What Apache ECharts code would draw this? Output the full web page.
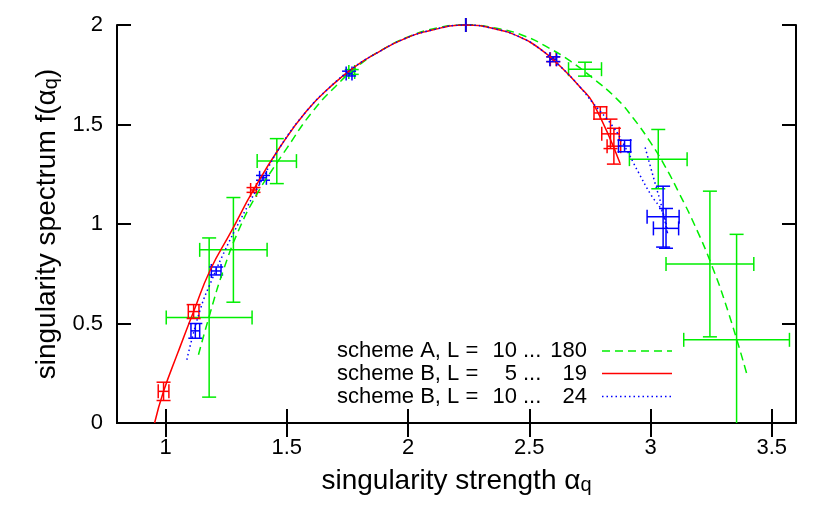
<!DOCTYPE html>
<html>
<head>
<meta charset="utf-8">
<script src="https://cdn.jsdelivr.net/npm/echarts@6/dist/echarts.min.js"></script>
<style>
  html, body { margin: 0; padding: 0; background: #fff; }
  #chart { width: 830px; height: 521px; }
</style>
</head>
<body>
<div id="chart"></div>
<script>
var xTicks = [1, 1.5, 2, 2.5, 3, 3.5];

// legend rows: scheme name, L range
var keyNames = ['scheme A', 'scheme B', 'scheme B'];
var keyFrom = ['10', '5', '10'];
var keyTo = ['180', '19', '24'];

// scheme A, L = 10 ... 180 (points with x / y errors)
var ptAX = [1.180, 1.280, 1.459, 1.768, 2.238, 2.730, 3.032, 3.245, 3.355];
var ptAY = [0.530, 0.870, 1.316, 1.764, 2.000, 1.778, 1.326, 0.799, 0.418];
var ptAXe = [0.177, 0.139, 0.081, 0.012, 0.000, 0.068, 0.119, 0.181, 0.218];
var ptAYe = [0.400, 0.263, 0.113, 0.012, 0.000, 0.035, 0.149, 0.366, 0.530];

// scheme B, L = 5 ... 19
var ptBX = [0.992, 1.116, 1.363, 2.238, 2.599, 2.793, 2.835, 2.849];
var ptBY = [0.159, 0.560, 1.171, 2.000, 1.828, 1.558, 1.453, 1.391];
var ptBXe = [0.022, 0.022, 0.012, 0.000, 0.012, 0.026, 0.036, 0.028];
var ptBYe = [0.046, 0.035, 0.012, 0.000, 0.012, 0.031, 0.074, 0.090];

// scheme B, L = 10 ... 24
var ptCX = [1.123, 1.209, 1.402, 1.757, 2.238, 2.599, 2.893, 3.052, 3.064];
var ptCY = [0.463, 0.764, 1.232, 1.756, 2.000, 1.828, 1.392, 1.037, 0.978];
var ptCXe = [0.018, 0.020, 0.014, 0.012, 0.000, 0.014, 0.025, 0.066, 0.052];
var ptCYe = [0.037, 0.020, 0.012, 0.012, 0.000, 0.012, 0.029, 0.153, 0.100];

// curves
var curveAX = [1.136, 1.184, 1.239, 1.308, 1.377, 1.439, 1.50, 1.60, 1.70, 1.80, 1.90, 2.0, 2.12, 2.238, 2.36, 2.48, 2.58, 2.67, 2.76, 2.86, 2.93, 3.0, 3.06, 3.12, 3.18, 3.25, 3.32, 3.40];
var curveAY = [0.343, 0.552, 0.769, 0.986, 1.150, 1.270, 1.380, 1.555, 1.690, 1.800, 1.880, 1.940, 1.985, 2.0, 1.985, 1.945, 1.885, 1.818, 1.735, 1.630, 1.530, 1.410, 1.290, 1.150, 1.000, 0.800, 0.560, 0.234];

var curveBX = [0.955, 0.992, 1.05, 1.116, 1.185, 1.27, 1.363, 1.473, 1.58, 1.68, 1.78, 1.88, 1.98, 2.10, 2.238, 2.36, 2.46, 2.55, 2.63, 2.709, 2.764, 2.874];
var curveBY = [0.0, 0.159, 0.35, 0.56, 0.77, 0.96, 1.171, 1.388, 1.565, 1.690, 1.790, 1.865, 1.928, 1.975, 2.0, 1.980, 1.940, 1.875, 1.790, 1.689, 1.606, 1.306];

var curveCX = [1.088, 1.143, 1.191, 1.246, 1.308, 1.402, 1.473, 1.58, 1.68, 1.78, 1.88, 1.98, 2.10, 2.238, 2.36, 2.46, 2.55, 2.63, 2.709, 2.764, 2.846, 2.893, 2.95, 3.0, 3.052, 3.07, 3.046, 3.02, 2.977];
var curveCY = [0.318, 0.569, 0.719, 0.869, 1.019, 1.232, 1.388, 1.565, 1.690, 1.790, 1.865, 1.928, 1.975, 2.0, 1.980, 1.940, 1.875, 1.790, 1.689, 1.606, 1.488, 1.392, 1.26, 1.15, 1.053, 0.95, 1.087, 1.20, 1.388];

var green = '#00ee00', red = '#ff0000', blue = '#0000ff';
var font = 'Liberation Sans, Arial, sans-serif';

function zip(a, b) {
  return a.map(function (v, i) { return [v, b[i]]; });
}
function zip4(a, b, c, d) {
  return a.map(function (v, i) { return [v, b[i], c[i], d[i]]; });
}

// gnuplot style xyerrorbars
function errBars(color) {
  return function (params, api) {
    var x = api.value(0), y = api.value(1), xe = api.value(2), ye = api.value(3);
    var lo = y - ye, capLo = true;
    if (lo < 0) { lo = 0; capLo = false; }
    var l = api.coord([x - xe, y]), r = api.coord([x + xe, y]);
    var t = api.coord([x, y + ye]), b = api.coord([x, lo]);
    var h = 7;
    var st = { stroke: color, lineWidth: 1.5, fill: null };
    var kids = [
      { type: 'line', shape: { x1: l[0], y1: l[1], x2: r[0], y2: r[1] }, style: st },
      { type: 'line', shape: { x1: t[0], y1: t[1], x2: b[0], y2: b[1] }, style: st },
      { type: 'line', shape: { x1: l[0], y1: l[1] - h, x2: l[0], y2: l[1] + h }, style: st },
      { type: 'line', shape: { x1: r[0], y1: r[1] - h, x2: r[0], y2: r[1] + h }, style: st },
      { type: 'line', shape: { x1: t[0] - h, y1: t[1], x2: t[0] + h, y2: t[1] }, style: st }
    ];
    if (capLo) {
      kids.push({ type: 'line', shape: { x1: b[0] - h, y1: b[1], x2: b[0] + h, y2: b[1] }, style: st });
    }
    return { type: 'group', children: kids };
  };
}

var chart = echarts.init(document.getElementById('chart'));

var axisLine = { lineStyle: { color: '#000', width: 2 } };
var tick = { inside: true, length: 14, lineStyle: { color: '#000', width: 2 } };

var keyRows = [340, 362.5, 385.5];
var keyStyles = [
  { stroke: green, lineWidth: 1.5, lineDash: [8, 5] },
  { stroke: red, lineWidth: 1.5 },
  { stroke: blue, lineWidth: 1.5, lineDash: [1.5, 3] }
];
var graphics = [];
keyRows.forEach(function (ty, i) {
  var ts = { fontSize: 22, fontFamily: font, fill: '#000', textVerticalAlign: 'middle' };
  graphics.push({ type: 'text', left: 337, top: ty, style: Object.assign({ text: keyNames[i] + ', L =' }, ts) });
  graphics.push({ type: 'text', x: 517, y: ty + 11, style: Object.assign({ text: keyFrom[i], textAlign: 'right' }, ts) });
  graphics.push({ type: 'text', x: 523, y: ty + 11, style: Object.assign({ text: '...', textAlign: 'left' }, ts) });
  graphics.push({ type: 'text', x: 587, y: ty + 11, style: Object.assign({ text: keyTo[i], textAlign: 'right' }, ts) });
  graphics.push({ type: 'line', shape: { x1: 602, y1: ty + 11, x2: 672, y2: ty + 11 }, style: keyStyles[i] });
});

var option = {
  animation: false,
  backgroundColor: '#fff',
  grid: { left: 117, right: 34, top: 25, bottom: 98 },
  xAxis: [{
    type: 'value', min: 0.8, max: 3.6, position: 'bottom',
    axisLine: axisLine,
    axisTick: Object.assign({ customValues: xTicks }, tick),
    axisLabel: { customValues: xTicks, fontSize: 22, fontFamily: font, color: '#000', margin: 14 },
    splitLine: { show: false },
    name: '{m|singularity strength α}{s|q}',
    nameLocation: 'middle', nameGap: 32,
    nameTextStyle: {
      rich: {
        m: { fontSize: 28, fontFamily: font, color: '#000', lineHeight: 40, verticalAlign: 'bottom' },
        s: { fontSize: 20, fontFamily: font, color: '#000', lineHeight: 20, verticalAlign: 'bottom' }
      }
    }
  }, {
    type: 'value', min: 0.8, max: 3.6, position: 'top',
    axisLine: axisLine,
    axisTick: Object.assign({ customValues: xTicks }, tick),
    axisLabel: { show: false },
    splitLine: { show: false }
  }],
  yAxis: [{
    type: 'value', min: 0, max: 2, interval: 0.5, position: 'left',
    axisLine: axisLine,
    axisTick: tick,
    axisLabel: { fontSize: 22, fontFamily: font, color: '#000', margin: 14 },
    splitLine: { show: false },
    name: '{m|singularity spectrum f(α}{s|q}{m|)}',
    nameLocation: 'middle', nameGap: 50,
    nameTextStyle: {
      rich: {
        m: { fontSize: 28, fontFamily: font, color: '#000', lineHeight: 40, verticalAlign: 'bottom' },
        s: { fontSize: 20, fontFamily: font, color: '#000', lineHeight: 20, verticalAlign: 'bottom' }
      }
    }
  }, {
    type: 'value', min: 0, max: 2, interval: 0.5, position: 'right',
    axisLine: axisLine,
    axisTick: tick,
    axisLabel: { show: false },
    splitLine: { show: false }
  }],
  graphic: graphics,
  series: [
    { type: 'custom', renderItem: errBars(green), data: zip4(ptAX, ptAY, ptAXe, ptAYe), z: 2 },
    { type: 'custom', renderItem: errBars(red), data: zip4(ptBX, ptBY, ptBXe, ptBYe), z: 2 },
    { type: 'custom', renderItem: errBars(blue), data: zip4(ptCX, ptCY, ptCXe, ptCYe), z: 2 },
    { type: 'line', data: zip(curveAX, curveAY), showSymbol: false, smooth: 0.5, z: 3,
      lineStyle: { color: green, width: 1.5, type: [8, 5] } },
    { type: 'line', data: zip(curveBX, curveBY), showSymbol: false, smooth: 0.5, z: 3,
      lineStyle: { color: red, width: 1.5 } },
    { type: 'line', data: zip(curveCX, curveCY), showSymbol: false, smooth: 0.5, z: 3,
      lineStyle: { color: blue, width: 1.5, type: [1.5, 3] } }
  ]
};
chart.setOption(option);
</script>
</body>
</html>
